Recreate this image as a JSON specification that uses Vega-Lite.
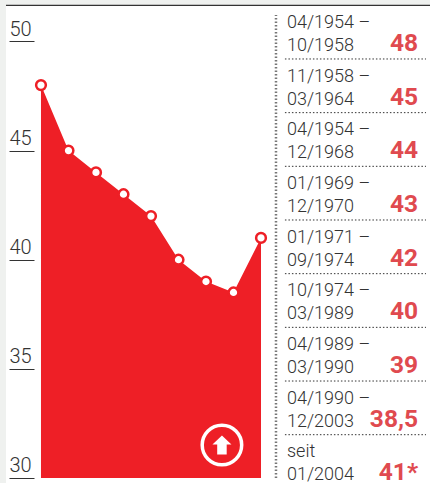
{"$schema":"https://vega.github.io/schema/vega-lite/v6.json","width":430,"height":483,"padding":0,"autosize":{"type":"none"},"background":"white","resolve":{"scale":{"y":"independent"}},"layer":[{"layer":[{"data":{"values":[{"i":0,"v":48},{"i":1,"v":45},{"i":2,"v":44},{"i":3,"v":43},{"i":4,"v":42},{"i":5,"v":40},{"i":6,"v":39},{"i":7,"v":38.5},{"i":8,"v":41}]},"layer":[{"mark":{"type":"area","color":"#ee1f26"},"encoding":{"x":{"field":"i","type":"quantitative","scale":{"domain":[-1.49,14.145],"nice":false,"zero":false},"axis":null},"y":{"field":"v","type":"quantitative","scale":{"domain":[29.77,51.9],"nice":false,"zero":false},"axis":{"values":[30,35,40,45,50],"title":null,"domain":false,"grid":false,"offset":-34,"tickSize":25,"tickColor":"#333333","tickWidth":1,"labelAlign":"left","labelPadding":0,"labelBaseline":"alphabetic","labelOffset":-6,"labelFont":"Roboto","labelFontWeight":300,"labelFontSize":20,"labelColor":"#333333"}},"y2":{"datum":30}}},{"mark":{"type":"point","filled":true,"fill":"white","stroke":"#ee1f26","strokeWidth":2.5,"size":95,"opacity":1},"encoding":{"x":{"field":"i","type":"quantitative"},"y":{"field":"v","type":"quantitative"}}}]},{"data":{"values":[{}]},"layer":[{"mark":{"type":"rect","color":"#eff1ef"},"encoding":{"x":{"datum":-1.49,"type":"quantitative"},"x2":{"datum":-1.272},"y":{"datum":29.77,"type":"quantitative"},"y2":{"datum":51.9}}},{"mark":{"type":"rect","color":"#eff1ef"},"encoding":{"x":{"datum":-1.49,"type":"quantitative"},"x2":{"datum":14.145},"y":{"datum":51.67,"type":"quantitative"},"y2":{"datum":51.9}}},{"mark":{"type":"rule","color":"#333333","strokeWidth":1.2},"encoding":{"x":{"datum":-1.272,"type":"quantitative"},"x2":{"datum":14.145},"y":{"datum":51.65,"type":"quantitative"}}},{"mark":{"type":"rule","color":"#777777","strokeWidth":2.5,"strokeDash":[1.5,2]},"encoding":{"x":{"datum":8.545,"type":"quantitative"},"y":{"datum":30,"type":"quantitative"},"y2":{"datum":51.21}}},{"mark":{"type":"point","filled":false,"stroke":"white","strokeWidth":3.5,"size":1560,"opacity":1},"encoding":{"x":{"datum":6.58,"type":"quantitative"},"y":{"datum":31.51,"type":"quantitative"}}},{"mark":{"type":"point","filled":true,"fill":"white","stroke":null,"opacity":1,"size":361,"shape":"M0,-1 L1,-0.05 L0.5,-0.05 L0.5,1 L-0.5,1 L-0.5,-0.05 L-1,-0.05 Z"},"encoding":{"x":{"datum":6.58,"type":"quantitative"},"y":{"datum":31.51,"type":"quantitative"}}}]}]},{"data":{"values":[{"row":1,"line1":"04/1954 –","line2":"10/1958","value":"48"},{"row":2,"line1":"11/1958 –","line2":"03/1964","value":"45"},{"row":3,"line1":"04/1954 –","line2":"12/1968","value":"44"},{"row":4,"line1":"01/1969 –","line2":"12/1970","value":"43"},{"row":5,"line1":"01/1971 –","line2":"09/1974","value":"42"},{"row":6,"line1":"10/1974 –","line2":"03/1989","value":"40"},{"row":7,"line1":"04/1989 –","line2":"03/1990","value":"39"},{"row":8,"line1":"04/1990 –","line2":"12/2003","value":"38,5"},{"row":9,"line1":"seit","line2":"01/2004","value":"41*"}]},"encoding":{"y":{"field":"row","type":"quantitative","scale":{"domain":[-0.0987,8.9],"reverse":true,"nice":false,"zero":false},"axis":null}},"layer":[{"transform":[{"filter":"datum.row < 9"}],"mark":{"type":"rule","color":"#333333","strokeWidth":1,"strokeDash":[1.5,2]},"encoding":{"x":{"datum":8.87,"type":"quantitative"},"x2":{"datum":14}}},{"mark":{"type":"text","align":"left","baseline":"alphabetic","font":"Roboto","fontWeight":300,"fontSize":18,"color":"#333333","dy":-31},"encoding":{"x":{"datum":8.945,"type":"quantitative"},"text":{"field":"line1"}}},{"mark":{"type":"text","align":"left","baseline":"alphabetic","font":"Roboto","fontWeight":300,"fontSize":18,"color":"#333333","dy":-8},"encoding":{"x":{"datum":8.945,"type":"quantitative"},"text":{"field":"line2"}}},{"mark":{"type":"text","align":"right","baseline":"alphabetic","font":"Roboto","fontWeight":"bold","fontSize":24.5,"color":"#e04a4f","dy":-8},"encoding":{"x":{"datum":13.71,"type":"quantitative"},"text":{"field":"value"}}}]}]}
